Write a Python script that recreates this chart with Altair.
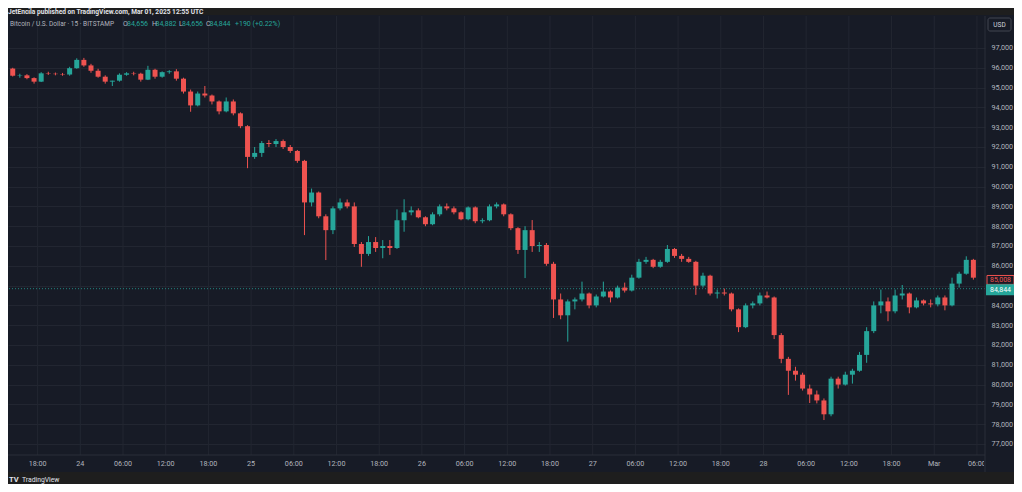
import altair as alt
import pandas as pd

# ---------------- data (hourly candles) ----------------
opens = [95960, 95600, 95620, 95480, 95300, 95720, 95700, 95680, 95660, 95980,
         96400, 96120, 95850, 95550, 95300, 95350, 95650, 95720, 95700, 95400,
         95900, 95550, 95780, 95820, 95450, 94800, 94100, 94700, 94600, 94300,
         93800, 94300, 93700, 93050, 91500, 91700, 92200, 92150, 92300, 92000,
         91800, 91300, 89200, 89700, 88500, 87800, 88900, 89200, 89000, 87100,
         86600, 87200, 86900, 87000, 86900, 88300, 88700, 88800, 88450, 88100,
         88600, 89000, 88900, 88700, 88350, 88950, 88250, 88300, 89000, 89100,
         88600, 87900, 86800, 87800, 87000, 87050, 86100, 84300, 83500, 84200,
         84300, 84600, 84000, 84450, 84700, 84400, 84900, 84750, 85400, 86200,
         86300, 85950, 86200, 86850, 86500, 86350, 86200, 85000, 85500, 84600,
         84650, 84600, 83800, 82900, 84000, 84100, 84500, 84400, 82500, 81300,
         80700, 80500, 79800, 79500, 79200, 78500, 80300, 80000, 80500, 80700,
         81500, 82700, 84000, 84200, 83700, 84500, 84600, 83900, 84250, 84100,
         84050, 84400, 84000, 85100, 85600, 86300]
highs = [96000, 95700, 95680, 95520, 95780, 95800, 95760, 95740, 96050, 96480,
         96500, 96200, 95950, 95620, 95350, 95720, 95780, 95800, 95750, 96100,
         95950, 95820, 95880, 95930, 95500, 94900, 94800, 95080, 94650, 94350,
         94500, 94400, 93750, 93100, 92000, 92300, 92350, 92400, 92380, 92100,
         91850, 91350, 89900, 89750, 88600, 89000, 89400, 89350, 89200, 87200,
         87500, 87450, 87300, 87300, 88850, 89360, 89000, 88900, 88500, 88700,
         89100, 89150, 89000, 88750, 89000, 89000, 88400, 89100, 89200, 89150,
         88650, 87950, 88000, 88310, 87200, 87150, 86200, 84600, 84300, 84400,
         85200, 84650, 84550, 85200, 84750, 85000, 85150, 85550, 86350, 86450,
         86350, 86300, 87050, 86900, 86600, 86450, 86250, 85650, 85550, 84800,
         84850, 84650, 83850, 84100, 84200, 84650, 84700, 84450, 82600, 81400,
         80900, 80600, 80000, 79700, 79300, 80400, 80400, 80650, 80800, 81650,
         82900, 84200, 84800, 84400, 84800, 85030, 84650, 84400, 84300, 84300,
         84500, 84500, 85400, 85700, 86480, 86350]
lows = [95560, 95500, 95420, 95200, 95280, 95640, 95620, 95600, 95600, 95950,
        96050, 95750, 95500, 95200, 95080, 95300, 95600, 95620, 95300, 95380,
        95450, 95500, 95700, 95350, 94700, 93780, 94050, 94500, 94150, 93650,
        93750, 93600, 92950, 90930, 91400, 91500, 92000, 92000, 91900, 91700,
        91200, 87550, 89000, 88400, 86290, 87600, 88800, 88900, 86950, 85950,
        86500, 86700, 86380, 86550, 86850, 87720, 88550, 88400, 88000, 88050,
        88500, 88800, 88600, 88300, 88300, 88150, 88150, 88250, 88900, 88500,
        87800, 86600, 85380, 86700, 86700, 86000, 83365, 83300, 82170, 83800,
        84200, 83850, 83900, 84400, 84150, 84350, 84650, 84700, 85350, 86100,
        85880, 85900, 86150, 86400, 86200, 86150, 84530, 84900, 84500, 84350,
        84500, 83700, 82650, 82850, 83850, 84000, 84350, 82300, 81080, 79480,
        80200, 79700, 79070, 79050, 78210, 78400, 79800, 79950, 80050, 80650,
        81100, 82600, 83600, 83200, 83600, 84300, 83600, 83850, 84000, 83900,
        83950, 83750, 83950, 84900, 85550, 85300]
closes = [95600, 95620, 95480, 95300, 95720, 95700, 95680, 95660, 95980, 96400,
          96120, 95850, 95550, 95300, 95350, 95650, 95720, 95700, 95400, 95900,
          95550, 95780, 95820, 95450, 94800, 94100, 94700, 94600, 94300, 93800,
          94300, 93700, 93050, 91500, 91700, 92200, 92150, 92300, 92000, 91800,
          91300, 89200, 89700, 88500, 87800, 88900, 89200, 89000, 87100, 86600,
          87200, 86900, 87000, 86900, 88300, 88700, 88800, 88450, 88100, 88600,
          89000, 88900, 88700, 88350, 88950, 88250, 88300, 89000, 89100, 88600,
          87900, 86800, 87800, 87000, 87050, 86100, 84300, 83500, 84200, 84300,
          84600, 84000, 84450, 84700, 84400, 84900, 84750, 85400, 86200, 86300,
          85950, 86200, 86850, 86500, 86350, 86200, 85000, 85500, 84600, 84650,
          84600, 83800, 82900, 84000, 84100, 84500, 84400, 82500, 81300, 80700,
          80500, 79800, 79500, 79200, 78500, 80300, 80000, 80500, 80700, 81500,
          82700, 84000, 84200, 83700, 84500, 84600, 83900, 84250, 84100, 84050,
          84400, 84000, 85100, 85600, 86300, 85400]

tick_labels = ["18:00", "24", "06:00", "12:00", "18:00", "25", "06:00", "12:00",
               "18:00", "26", "06:00", "12:00", "18:00", "27", "06:00", "12:00",
               "18:00", "28", "06:00", "12:00", "18:00", "Mar", "06:00"]
price_ticks = list(range(77000, 98000, 1000))

last_price = 84844
prev_tag = 85008
hdr_o, hdr_h, hdr_l, hdr_c = 84656, 84882, 84656, 84844
hdr_chg = "+190 (+0.22%)"
symbol = "Bitcoin / U.S. Dollar · 15 · BITSTAMP"
header = "JetEncila published on TradingView.com, Mar 01, 2025 12:55 UTC"

# ---------------- styles ----------------
UP, DOWN = "#26a69a", "#ef5350"
BG, FRAME, GRID, SEP, TXT = "#171b26", "#1e1e1e", "#222631", "#2a2e39", "#b2b5be"
FONT = "Roboto"
W, H = 977, 439

times = pd.date_range("2025-02-23 14:30", periods=len(closes), freq="h")
candles = pd.DataFrame({
    "t": times.strftime("%Y-%m-%dT%H:%M:%SZ"),
    "open": opens, "high": highs, "low": lows, "close": closes,
})
tick_times = pd.date_range("2025-02-23 18:00", periods=len(tick_labels), freq="6h")
ticks = pd.DataFrame({"t": tick_times.strftime("%Y-%m-%dT%H:%M:%SZ"), "label": tick_labels})

xscale = alt.Scale(type="utc", domain=[
    alt.DateTime(year=2025, month=2, date=23, hours=14, minutes=32, seconds=24, utc=True),
    alt.DateTime(year=2025, month=3, date=1, hours=6, minutes=25, seconds=48, utc=True),
])
yscale = alt.Scale(domain=[76444, 98616], nice=False, zero=False)
yaxis = alt.Axis(orient="right", values=price_ticks, format=",d",
                 labelExpr="datum.value == 85000 ? '' : datum.label",
                 grid=True, gridColor=GRID, gridWidth=1, domain=False, ticks=False,
                 labelColor=TXT, labelFontSize=7.2, labelFont=FONT, labelPadding=6,
                 title=None)


def X(f):
    return alt.X(f, scale=xscale, axis=None)


def Y(f):
    return alt.Y(f, scale=yscale, axis=yaxis, title=None)


updown = alt.when(alt.datum.close >= alt.datum.open).then(alt.value(UP)).otherwise(alt.value(DOWN))
one = pd.DataFrame({"a": [0]})

vgrid = alt.Chart(ticks).mark_rule(color=GRID, strokeWidth=1).encode(
    x=X("t:T"), y=alt.value(0), y2=alt.value(H))

price_df = pd.DataFrame({"p": [last_price], "label": [f"{last_price:,}"]})
prev_df = pd.DataFrame({"p": [prev_tag], "label": [f"{prev_tag:,}"]})

price_line = alt.Chart(price_df).mark_rule(color=UP, strokeDash=[1, 2], opacity=0.75).encode(
    y=Y("p:Q"))

base = alt.Chart(candles)
wicks = base.mark_rule(strokeWidth=1).encode(x=X("t:T"), y=Y("low:Q"), y2="high:Q", color=updown)
bodies = base.mark_bar(width=5).encode(x=X("t:T"), y=Y("open:Q"), y2="close:Q", color=updown)

top_strip = alt.Chart(one).mark_rect(color=FRAME).encode(
    x=alt.value(0), x2=alt.value(1006), y=alt.value(-8), y2=alt.value(-1))
bottom_strip = alt.Chart(one).mark_rect(color=FRAME).encode(
    x=alt.value(0), x2=alt.value(1006), y=alt.value(456), y2=alt.value(470))
sep_right = alt.Chart(one).mark_rule(color=SEP).encode(
    x=alt.value(W), y=alt.value(0), y2=alt.value(456))
sep_bottom = alt.Chart(one).mark_rule(color=SEP).encode(
    y=alt.value(H), x=alt.value(0), x2=alt.value(W))

time_labels = alt.Chart(ticks).mark_text(font=FONT, fontSize=7.2, color=TXT, baseline="middle").encode(
    x=X("t:T"), y=alt.value(448), text="label:N")
cover = alt.Chart(one).mark_rect(color=BG).encode(
    x=alt.value(W - 1), x2=alt.value(1006), y=alt.value(H + 1), y2=alt.value(455))

header_txt = alt.Chart(one).mark_text(font=FONT, fontSize=6.6, fontWeight="bold", color="#e0e3eb",
                                      align="left", baseline="middle").encode(
    x=alt.value(0), y=alt.value(-4.5), text=alt.value(header))

legend_parts = [
    (symbol, TXT, 6.5), ("O", TXT, 7), (f"{hdr_o:,}", UP, 7), ("H", TXT, 7), (f"{hdr_h:,}", UP, 7),
    ("L", TXT, 7), (f"{hdr_l:,}", UP, 7), ("C", TXT, 7), (f"{hdr_c:,}", UP, 7), (hdr_chg, UP, 7),
]
legend_x = [2, 115, 119, 144, 147.5, 171, 174, 198, 201.5, 227]
legend_layers = [
    alt.Chart(one).mark_text(font=FONT, fontSize=fs, color=c, align="left", baseline="middle").encode(
        x=alt.value(px), y=alt.value(8), text=alt.value(txt))
    for (txt, c, fs), px in zip(legend_parts, legend_x)
]

usd_box = alt.Chart(one).mark_rect(fill=BG, stroke="#434651", strokeWidth=1, cornerRadius=2).encode(
    x=alt.value(980), x2=alt.value(1003), y=alt.value(2), y2=alt.value(15))
usd_txt = alt.Chart(one).mark_text(font=FONT, fontSize=6.5, color="#d1d4dc", baseline="middle").encode(
    x=alt.value(991.5), y=alt.value(8.5), text=alt.value("USD"))

BOX = "M-1,-0.33H1V0.33H-1Z"
prev_box = alt.Chart(prev_df).mark_point(shape=BOX, size=729, filled=True, fill=BG, stroke=DOWN,
                                         strokeWidth=1, opacity=1, yOffset=-5.5).encode(
    x=alt.value(992.5), y=Y("p:Q"))
prev_txt = alt.Chart(prev_df).mark_text(font=FONT, fontSize=7, color=DOWN, baseline="middle",
                                        yOffset=-5.5).encode(
    x=alt.value(992.5), y=Y("p:Q"), text="label:N")
last_box = alt.Chart(price_df).mark_point(shape=BOX, size=729, filled=True, fill=UP, stroke=UP,
                                          opacity=1, yOffset=1).encode(
    x=alt.value(992.5), y=Y("p:Q"))
last_txt = alt.Chart(price_df).mark_text(font=FONT, fontSize=7, color="#ffffff", baseline="middle",
                                         yOffset=1).encode(
    x=alt.value(992.5), y=Y("p:Q"), text="label:N")

tv_logo = alt.Chart(one).mark_text(font=FONT, fontSize=7.5, fontWeight="bold", color="#e0e3eb",
                                   align="left", baseline="middle").encode(
    x=alt.value(1), y=alt.value(463.5), text=alt.value("TV"))
tv_txt = alt.Chart(one).mark_text(font=FONT, fontSize=6.8, color="#e0e3eb",
                                  align="left", baseline="middle").encode(
    x=alt.value(14), y=alt.value(463.5), text=alt.value("TradingView"))

chart = alt.layer(
    vgrid, price_line, wicks, bodies, top_strip, bottom_strip, sep_bottom,
    time_labels, cover, sep_right, header_txt, *legend_layers, usd_box, usd_txt,
    prev_box, prev_txt, last_box, last_txt, tv_logo, tv_txt,
).properties(
    width=W, height=H, background=BG,
    padding={"left": 0, "top": 8, "right": 29, "bottom": 29},
    autosize=alt.AutoSizeParams(type="none"),
).configure_view(strokeWidth=0)

chart.save("out.html", embed_options={"renderer": "svg", "actions": False})
